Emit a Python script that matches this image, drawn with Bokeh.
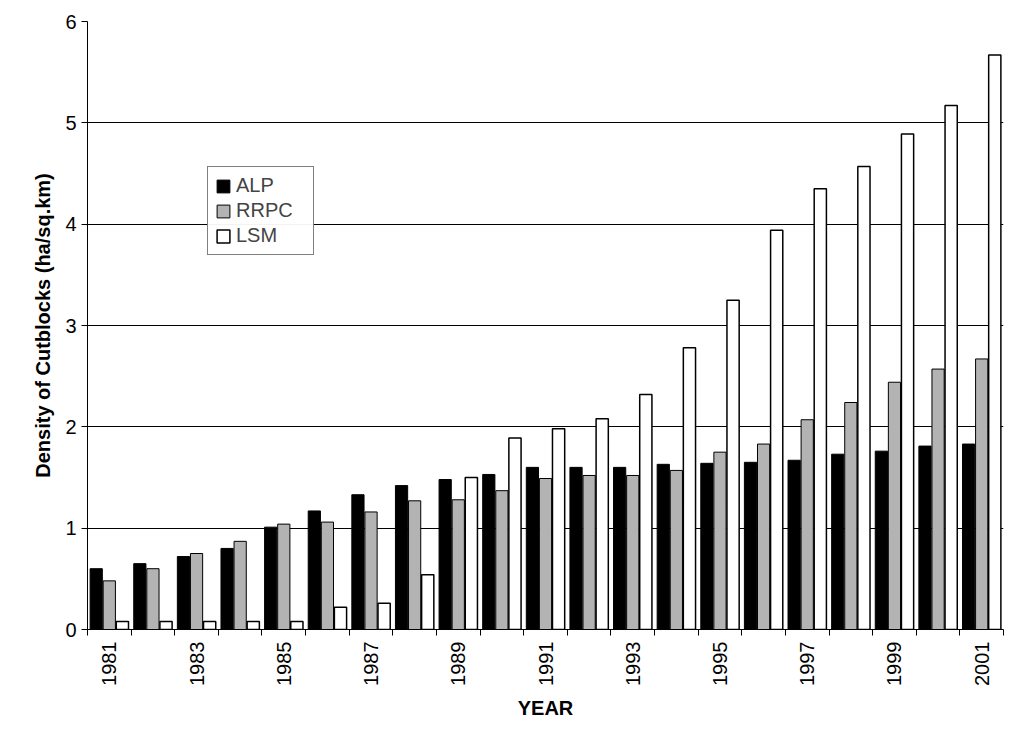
from bokeh.plotting import figure
from bokeh.models import FixedTicker, Legend, LegendItem
from bokeh.embed import file_html
from bokeh.resources import INLINE

years = list(range(1981, 2002))
alp = [0.6,0.65,0.72,0.8,1.01,1.17,1.33,1.42,1.48,1.53,1.6,1.6,1.6,1.63,1.64,1.65,1.67,1.73,1.76,1.81,1.83]
rrpc = [0.48,0.6,0.75,0.87,1.04,1.06,1.16,1.27,1.28,1.37,1.49,1.52,1.52,1.57,1.75,1.83,2.07,2.24,2.44,2.57,2.67]
lsm = [0.08,0.08,0.08,0.08,0.08,0.22,0.26,0.54,1.5,1.89,1.98,2.08,2.32,2.78,3.25,3.94,4.35,4.57,4.89,5.17,5.67]
tick_years = list(range(1981, 2002, 2))

p = figure(width=1005, height=721, output_backend="svg", toolbar_location=None,
           x_range=(1980.5, 2001.5), y_range=(0, 6),
           min_border_top=21, min_border_right=2, min_border_left=87, min_border_bottom=10,
           x_axis_label="YEAR", y_axis_label="Density of Cutblocks (ha/sq.km)")
w = 0.28
r1 = p.vbar(x=[y - 0.3 for y in years], top=alp, width=w, fill_color="black", line_color="black")
r2 = p.vbar(x=years, top=rrpc, width=w, fill_color="#b3b3b3", line_color="black")
r3 = p.vbar(x=[y + 0.3 for y in years], top=lsm, width=w, fill_color="white", line_color="black", line_width=1.5)

p.xaxis.ticker = FixedTicker(ticks=tick_years, minor_ticks=[y + 0.5 for y in range(1980, 2002)])
p.xaxis.minor_tick_in = 0
p.xaxis.minor_tick_out = 6
p.xaxis.major_label_orientation = 1.5708
p.yaxis.ticker = FixedTicker(ticks=[0,1,2,3,4,5,6])
p.yaxis.minor_tick_line_color = None
p.yaxis.major_tick_in = 0
p.yaxis.major_tick_out = 6
for ax in (p.xaxis, p.yaxis):
    ax.major_label_text_font = "Liberation Sans"
    ax.major_label_text_font_size = "20px"
    ax.major_label_text_color = "black"
    ax.axis_label_text_font = "Liberation Sans"
    ax.axis_label_text_font_size = "20px"
    ax.axis_label_text_font_style = "bold"
    ax.axis_label_text_color = "black"
    ax.axis_line_color = "black"
    ax.axis_label_standoff = 8
p.xaxis.major_tick_line_color = None
p.xaxis.major_label_standoff = 6
p.yaxis.major_tick_line_color = "black"
p.xgrid.grid_line_color = None
p.ygrid.grid_line_color = "black"
p.outline_line_color = None

leg = Legend(items=[LegendItem(label="ALP", renderers=[r1]),
                    LegendItem(label="RRPC", renderers=[r2]),
                    LegendItem(label="LSM", renderers=[r3])],
             location=(120, 374), border_line_color="black", label_text_font="Liberation Sans",
             label_text_font_size="20px", glyph_width=16, glyph_height=16, spacing=2, padding=7,
             label_standoff=5, label_width=70)
p.add_layout(leg, "center")

open("out.html", "w").write(file_html(p, INLINE))
